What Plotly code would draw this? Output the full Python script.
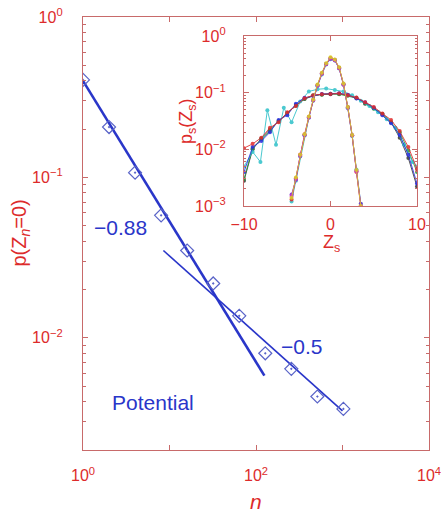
import plotly.graph_objects as go

# ---------------- main panel data ----------------
n_vals = [1, 2, 4, 8, 16, 32, 64, 128, 256, 512, 1024]
p_vals = [0.405, 0.206, 0.107, 0.058, 0.035, 0.0218, 0.0137, 0.0080, 0.0064, 0.0043, 0.0036]

fit1_n = [1, 125]
fit1_p = [0.40, 0.0058]
fit2_n = [8.5, 1000]
fit2_p = [0.035, 0.0035]

# ---------------- inset data ----------------
zs_broad = [-10, -9, -8, -7, -6, -5, -4, -3, -2, -1, 0, 1, 2, 3, 4, 5, 6, 7, 8, 9, 10]
broad_red = [0.0105, 0.0125, 0.016, 0.024, 0.030, 0.045, 0.058, 0.080, 0.090, 0.094, 0.095,
             0.097, 0.090, 0.082, 0.068, 0.056, 0.043, 0.033, 0.021, 0.011, 0.0045]
broad_green = [0.0030, 0.0105, 0.0150, 0.0210, 0.0320, 0.0420, 0.0610, 0.0780, 0.0900, 0.0920, 0.0960,
               0.0940, 0.0880, 0.0800, 0.0650, 0.0520, 0.0420, 0.0300, 0.0200, 0.0095, 0.0040]
broad_blue = [0.0040, 0.0110, 0.0140, 0.0200, 0.0330, 0.0400, 0.0640, 0.0810, 0.0870, 0.0950, 0.0960,
              0.0980, 0.0920, 0.0790, 0.0680, 0.0540, 0.0400, 0.0290, 0.0180, 0.0080, 0.0025]
broad_black = [0.0028, 0.0100, 0.0155, 0.0225, 0.0310, 0.0440, 0.0590, 0.0770, 0.0880, 0.0930, 0.0940,
               0.0950, 0.0900, 0.0810, 0.0640, 0.0530, 0.0420, 0.0300, 0.0160, 0.0070, 0.0022]
zs_cyan = [-10, -9, -8.1, -7.3, -6.3, -5.4, -4.5, -3.5, -2.5, -1.5, -0.5, 0.5, 1.5, 2.5, 3.5, 4.5,
           5.5, 6.5, 7.5, 8.5, 9.5, 10]
broad_cyan = [0.0050, 0.0090, 0.0060, 0.049, 0.012, 0.054, 0.030, 0.070, 0.105, 0.115, 0.118, 0.112,
              0.105, 0.090, 0.072, 0.058, 0.045, 0.034, 0.024, 0.012, 0.0060, 0.0050]

zs_narrow = [-4.5, -4, -3.5, -3, -2.5, -2, -1.5, -1, -0.5, 0, 0.5, 1, 1.5, 2, 2.5, 3, 3.5]
narrow_yellow = [0.0014, 0.0032, 0.0080, 0.0185, 0.0380, 0.0760, 0.140, 0.225, 0.330, 0.420,
                 0.385, 0.280, 0.145, 0.056, 0.0180, 0.0043, 0.0010]
narrow_magenta = [0.0015, 0.0030, 0.0078, 0.0180, 0.0370, 0.0735, 0.133, 0.215, 0.320, 0.400,
                  0.375, 0.270, 0.138, 0.054, 0.0175, 0.0041, 0.0010]
narrow_purple = [0.0016, 0.0029, 0.0076, 0.0178, 0.0365, 0.0740, 0.135, 0.218, 0.322, 0.395,
                 0.372, 0.272, 0.140, 0.055, 0.0177, 0.0042, 0.0011]
narrow_red = [0.0013, 0.0031, 0.0081, 0.0184, 0.0375, 0.0745, 0.136, 0.220, 0.325, 0.410,
              0.380, 0.276, 0.142, 0.056, 0.0178, 0.0040, 0.0010]
narrow_cyan = [0.0012, 0.0028, 0.0075, 0.0176, 0.0360, 0.0720, 0.130, 0.210, 0.315, 0.390,
               0.368, 0.268, 0.138, 0.053, 0.0172, 0.0044, 0.0011]

RED_TXT = "#dd2b2b"
RED_AX = "#c86a6a"
BLUE = "#2a36c9"
FONT = "Liberation Sans, Arial, sans-serif"

fig = go.Figure()

# main panel
fig.add_trace(go.Scatter(x=fit1_n, y=fit1_p, mode="lines", line=dict(color=BLUE, width=2.6),
                         showlegend=False, xaxis="x", yaxis="y"))
fig.add_trace(go.Scatter(x=fit2_n, y=fit2_p, mode="lines", line=dict(color=BLUE, width=1.6),
                         showlegend=False, xaxis="x", yaxis="y"))
fig.add_trace(go.Scatter(x=n_vals, y=p_vals, mode="markers",
                         marker=dict(symbol="diamond-open-dot", size=10, color="#5a64c8",
                                     line=dict(width=1.2, color="#5a64c8")),
                         showlegend=False, xaxis="x", yaxis="y"))

# inset
def add_inset(x, y, color):
    fig.add_trace(go.Scatter(x=x, y=y, mode="lines+markers",
                             line=dict(color=color, width=1),
                             marker=dict(color=color, size=4),
                             opacity=0.85, showlegend=False, xaxis="x2", yaxis="y2"))

add_inset(zs_broad, broad_black, "#333333")
add_inset(zs_broad, broad_green, "#2a9a3a")
add_inset(zs_cyan, broad_cyan, "#2cc0c8")
add_inset(zs_broad, broad_blue, "#2a2ae0")
add_inset(zs_broad, broad_red, "#e02a2a")
add_inset(zs_narrow, narrow_cyan, "#2cc0c8")
add_inset(zs_narrow, narrow_red, "#e02a2a")
add_inset(zs_narrow, narrow_purple, "#7a2ac8")
add_inset(zs_narrow, narrow_magenta, "#d02ad0")
add_inset(zs_narrow, narrow_yellow, "#d8d020")

ax_common = dict(showline=True, linecolor=RED_AX, linewidth=1.3, mirror="allticks",
                 ticks="inside", tickcolor=RED_AX, ticklen=5, showgrid=False, zeroline=False,
                 automargin=False, ticklabeloverflow="allow",
                 tickfont=dict(family=FONT, size=16, color=RED_TXT))

fig.update_layout(
    width=441, height=516,
    margin=dict(l=83, r=12, t=17, b=66),
    paper_bgcolor="white", plot_bgcolor="white",
    xaxis=dict(type="log", range=[0, 4], domain=[0, 1], anchor="y",
               tickmode="array", tickvals=[1, 10, 100, 1000, 10000],
               ticktext=["10<sup>0</sup>", "", "10<sup>2</sup>", "", "10<sup>4</sup>"],
               ticklabelstandoff=11, **ax_common),
    yaxis=dict(type="log", range=[-2.7, 0], domain=[0, 1], anchor="x",
               tickmode="array", tickvals=[0.01, 0.1, 1],
               ticktext=["10<sup>−2</sup>", "10<sup>−1</sup>", "10<sup>0</sup>"],
               minor=dict(ticks="inside", ticklen=3, tickcolor=RED_AX, dtick="D1", showgrid=False),
               ticklabelstandoff=16, **ax_common),
    xaxis2=dict(range=[-10, 10], domain=[0.4653, 0.9653], anchor="y2",
                tickmode="array", tickvals=[-10, 0, 10], ticktext=["−10", "0", "10"],
                ticklabelstandoff=4, **ax_common),
    yaxis2=dict(type="log", range=[-3, 0], domain=[0.5635, 0.9561], anchor="x2",
                tickmode="array", tickvals=[0.001, 0.01, 0.1, 1],
                ticktext=["10<sup>−3</sup>", "10<sup>−2</sup>", "10<sup>−1</sup>", "10<sup>0</sup>"],
                minor=dict(ticks="inside", ticklen=2, tickcolor=RED_AX, dtick="D1", showgrid=False),
                ticklabelstandoff=14, **ax_common),
    font=dict(family=FONT),
    annotations=[
        dict(text="−0.88", x=0.43, y=-1.315, xref="x", yref="y", showarrow=False,
             font=dict(family=FONT, size=21, color=BLUE)),
        dict(text="−0.5", x=2.53, y=-2.056, xref="x", yref="y", showarrow=False,
             font=dict(family=FONT, size=21, color=BLUE)),
        dict(text="Potential", x=0.81, y=-2.405, xref="x", yref="y", showarrow=False,
             font=dict(family=FONT, size=21, color=BLUE)),
        dict(text="p(Z<sub><i>n</i></sub>=0)", x=-0.182, y=0.5, xref="paper", yref="paper",
             textangle=-90, showarrow=False, xanchor="center", yanchor="middle",
             font=dict(family=FONT, size=20, color=RED_TXT)),
        dict(text="<i>n</i>", x=0.5, y=-0.12, xref="paper", yref="paper", showarrow=False,
             xanchor="center", yanchor="middle",
             font=dict(family=FONT, size=21, color=RED_TXT)),
        dict(text="p<sub>s</sub>(Z<sub>s</sub>)", x=(187 - 83) / 346, y=(450 - 121) / 433,
             xref="paper", yref="paper", textangle=-90, showarrow=False,
             xanchor="center", yanchor="middle",
             font=dict(family=FONT, size=18, color=RED_TXT)),
        dict(text="Z<sub>s</sub>", x=(331 - 83) / 346, y=(450 - 243) / 433,
             xref="paper", yref="paper", showarrow=False,
             xanchor="center", yanchor="middle",
             font=dict(family=FONT, size=18, color=RED_TXT)),
    ],
)

# remove the default 8 px page margin so the figure fills the window exactly
fig.write_html("out.html",
               config={"displayModeBar": False},
               post_script="document.body.style.margin='0';document.body.style.overflow='hidden';")
